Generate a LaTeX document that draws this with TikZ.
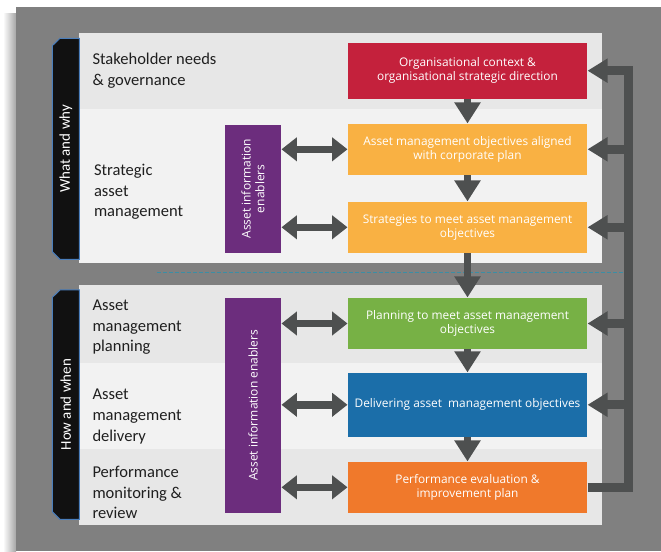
\documentclass[tikz,border=0pt]{standalone}
\usepackage{fontspec}
\setmainfont{Open Sans}
\newfontfamily\labelfont{Carlito}
\usetikzlibrary{arrows.meta}

\definecolor{bggrey}{HTML}{808080}
\definecolor{rowdark}{HTML}{E7E7E7}
\definecolor{rowlight}{HTML}{F2F2F2}
\definecolor{ctxred}{HTML}{C4213C}
\definecolor{objorange}{HTML}{F9B143}
\definecolor{plangreen}{HTML}{77B145}
\definecolor{delblue}{HTML}{1B6EA9}
\definecolor{perforange}{HTML}{F0792B}
\definecolor{aiepurple}{HTML}{6C2D7D}
\definecolor{arrowgrey}{HTML}{4E5050}
\definecolor{tabblack}{HTML}{111111}
\definecolor{tabblue}{HTML}{4A7EBB}
\definecolor{dashteal}{HTML}{3B8EA5}

\tikzset{every picture/.style={line width=0.75pt}}
\tikzset{
  goalbox/.style={inner sep=0pt, minimum width=179.25pt, text=white, align=center,
    font=\fontsize{8.9}{10.4}\selectfont},
  enabler/.style={fill=aiepurple, inner sep=0pt, minimum width=42pt},
  enablertext/.style={rotate=90, text=white, align=center, inner sep=0pt,
    font=\fontsize{9}{10.4}\selectfont},
  tabshape/.style={fill=tabblack, draw=tabblue, line width=0.75pt},
  tabtext/.style={rotate=90, text=white, inner sep=0pt, font=\labelfont\fontsize{11.2}{13}\selectfont},
  rowlabel/.style={anchor=west, align=left, inner sep=0pt, text=black!88,
    font=\labelfont\fontsize{12.4}{15.4}\selectfont},
  downflow/.style={draw=arrowgrey, line width=5.6pt, -{Triangle[length=15.75pt,width=18.75pt]}},
  infolink/.style={draw=arrowgrey, line width=5.6pt,
    {Triangle[length=11.5pt,width=17.25pt]}-{Triangle[length=11.5pt,width=17.25pt]}},
  feedback/.style={draw=arrowgrey, line width=6.5pt, -{Triangle[length=15pt,width=17.25pt]}}
}

\begin{document}
\begin{tikzpicture}[x=0.75pt,y=0.75pt,yscale=-1]
\useasboundingbox (0,0) rectangle (661,552);

%Shape: Rectangle [backdrop and shadow]
\shade [left color=white, right color=black!35] (3,14) rectangle (16,551);
\fill [bggrey] (16,7.5) rectangle (661,551);

%Shape: Rectangle [rows, what and why]
\fill [rowdark] (79,32.7) rectangle (601.7,108.7);
\fill [rowlight] (79,108.7) rectangle (601.7,263);
%Shape: Rectangle [rows, how and when]
\fill [rowdark] (79,285) rectangle (601.7,362.7);
\fill [rowlight] (79,362.7) rectangle (601.7,449);
\fill [rowdark] (79,449) rectangle (601.7,525);

%Straight Lines [divider]
\draw [dashteal, line width=1pt, dash pattern={on 3pt off 1.5pt}] (157,272.7) -- (623,272.7);

%Shape: Polygon [tabs]
\draw [tabshape] (52.3,45.7) -- (60,38.3) -- (79.3,38.3) -- (79.3,259.3) -- (60,259.3) -- (52.3,251.6) -- cycle;
\draw [tabshape] (52.3,297.4) -- (60,290) -- (79.3,290) -- (79.3,519.3) -- (60,519.3) -- (52.3,511.6) -- cycle;

% Text Node
\node [tabtext] (whatwhy) at (65.8,148.8) {What and why};
% Text Node
\node [tabtext] (howwhen) at (65.8,404.7) {How and when};

% Text Node
\node [rowlabel] (stake) at (92,70.5) {Stakeholder needs\\\& governance};
% Text Node
\node [rowlabel] (strategic) at (93.5,192) {Strategic\\asset\\management};
% Text Node
\node [rowlabel] (planning) at (92,327.5) {Asset\\management\\planning};
% Text Node
\node [rowlabel] (delivery) at (92,416.5) {Asset\\management\\delivery};
% Text Node
\node [rowlabel] (review) at (92,492.5) {Performance\\monitoring \&\\review};

%Shape: Rectangle [process boxes]
\node [goalbox, fill=ctxred, minimum height=42pt] (ctx) at (467.5,70.7) {Organisational context \&\\organisational strategic direction};
\node [goalbox, fill=objorange, minimum height=38pt] (obj) at (467.5,149.3) {Asset management objectives aligned\\with corporate plan};
\node [goalbox, fill=objorange, minimum height=38pt] (strat) at (467.5,227.3) {Strategies to meet asset management\\objectives};
\node [goalbox, fill=plangreen, minimum height=38.25pt] (plan) at (467.5,323.5) {Planning to meet asset management\\objectives};
\node [goalbox, fill=delblue, minimum height=47.8pt] (deliv) at (467.5,404.8) {Delivering asset\ \ management objectives};
\node [goalbox, fill=perforange, minimum height=38pt] (perf) at (467.5,487.3) {Performance evaluation \&\\improvement plan};

%Shape: Rectangle [asset information enablers]
\node [enabler, minimum height=95.8pt] (aie1) at (253,188.8) {};
\node [enablertext] at (aie1) {Asset information\\enablers};
\node [enabler, minimum height=161pt] (aie2) at (253,405.3) {};
\node [enablertext] at (aie2) {Asset information enablers};

%Straight Lines [downward flow]
\draw [downflow] (ctx.south) -- (obj.north);
\draw [downflow] (obj.south) -- (strat.north);
\draw [downflow] (strat.south) -- (plan.north);
\draw [downflow] (plan.south) -- (deliv.north);
\draw [downflow] (deliv.south) -- (perf.north);

%Straight Lines [information links]
\draw [infolink] (aie1.east |- obj.west) -- (obj.west);
\draw [infolink] (aie1.east |- strat.west) -- (strat.west);
\draw [infolink] (aie2.east |- plan.west) -- (plan.west);
\draw [infolink] (aie2.east |- deliv.west) -- (deliv.west);
\draw [infolink] (aie2.east |- perf.west) -- (perf.west);

%Straight Lines [feedback loop]
\coordinate (fbx) at (628.3,0);
\draw [feedback] (perf.east) -| (ctx.east -| fbx) -- (ctx.east);
\draw [feedback] (obj.east -| fbx) -- (obj.east);
\draw [feedback] (strat.east -| fbx) -- (strat.east);
\draw [feedback] (plan.east -| fbx) -- (plan.east);
\draw [feedback] (deliv.east -| fbx) -- (deliv.east);

\end{tikzpicture}
\end{document}
